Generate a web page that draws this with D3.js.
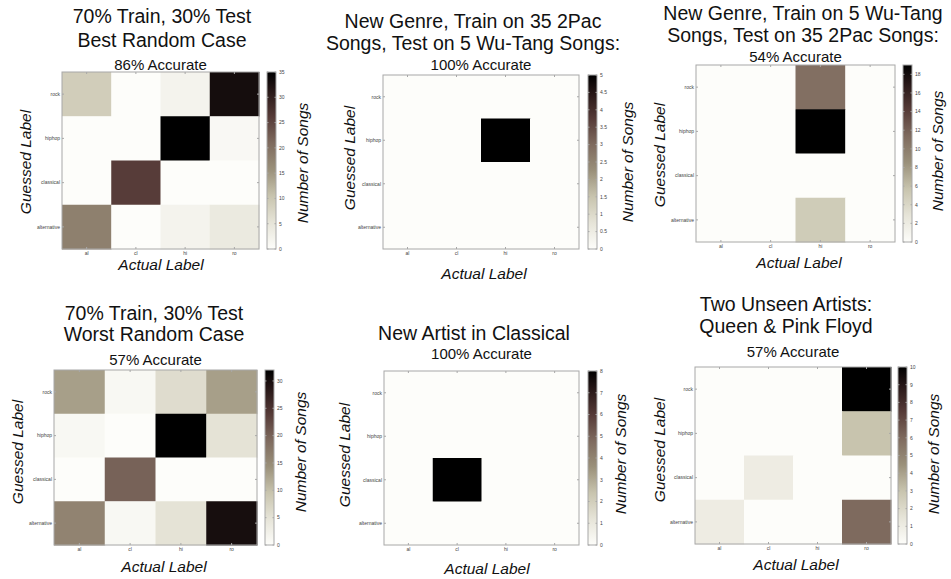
<!DOCTYPE html>
<html>
<head>
<meta charset="utf-8">
<script src="https://cdnjs.cloudflare.com/ajax/libs/d3/7.8.5/d3.min.js"></script>
<style>
body{margin:0;background:#fff}
svg{display:block}
text{font-family:"Liberation Sans",Arial,sans-serif}
</style>
</head>
<body>
<svg id="chart" width="951" height="579"></svg>
<script>
// categories
var guessed = ["rock","hiphop","classical","alternative"];
var actual = ["al","cl","hi","ro"];

// confusion matrices, rows = guessed label, columns = actual label
var bestCase   = [[9,0,2,33],[0,0,35,1],[0,26,0,0],[18,0,2,4]];
var train2Pac  = [[0,0,0,0],[0,0,5,0],[0,0,0,0],[0,0,0,0]];
var trainWu    = [[0,0,11,0],[0,0,19,0],[0,0,0,0],[0,0,5,0]];
var worstCase  = [[13,1,6,13],[1,0,32,5],[0,20,0,0],[16,1,5,30]];
var newArtist  = [[0,0,0,0],[0,0,0,0],[0,8,0,0],[0,0,0,0]];
var unseen     = [[0,0,0,10],[0,0,0,3],[0,1,0,0],[1,0,0,6]];
var matrices = [bestCase, train2Pac, trainWu, worstCase, newArtist, unseen];

var titles = [
  ["70% Train, 30% Test","Best Random Case"],
  ["New Genre, Train on 35 2Pac","Songs, Test on 5 Wu-Tang Songs:"],
  ["New Genre, Train on 5 Wu-Tang","Songs, Test on 35 2Pac Songs:"],
  ["70% Train, 30% Test","Worst Random Case"],
  ["New Artist in Classical"],
  ["Two Unseen Artists:","Queen & Pink Floyd"]
];
var accuracy = ["86% Accurate","100% Accurate","54% Accurate","57% Accurate","100% Accurate","57% Accurate"];

// reversed "pink"-like colormap
var cmapStops = [0,0.15,0.3,0.45,0.6,0.75,0.9,1];
var cmapColors = ["#fdfdfa","#e6e4d8","#c8c4ae","#9a907a","#7e6a5e","#553a37","#251616","#000000"];

// panel placement
var layout = [
  {bx:0,  by:0,  x0:62, x1:259,y0:72, y1:249,cb:267,tx:162,t1:23, t2:47, sub:70, ax:161,ay:270,gx:31, gy:162,nx:308,ny:163},
  {bx:318,by:0,  x0:383,x1:579,y0:75, y1:249,cb:588,tx:473,t1:28, t2:50, sub:70, ax:484,ay:279,gx:355,gy:158,nx:633,ny:162},
  {bx:637,by:0,  x0:696,x1:895,y0:65, y1:242,cb:903,tx:803,t1:20, t2:42, sub:62, ax:799,ay:268,gx:665,gy:155,nx:943,ny:151},
  {bx:0,  by:290,x0:54, x1:257,y0:370,y1:545,cb:265,tx:154,t1:320,t2:341,sub:365,ax:164,ay:572,gx:23, gy:452,nx:306,ny:452},
  {bx:318,by:290,x0:384,x1:579,y0:371,y1:545,cb:588,tx:474,t1:340,t2:0,  sub:359,ax:487,ay:574,gx:350,gy:455,nx:626,ny:454},
  {bx:637,by:290,x0:695,x1:891,y0:367,y1:544,cb:898,tx:786,t1:311,t2:333,sub:357,ax:796,ay:570,gx:665,gy:450,nx:939,ny:454}
];

var svg = d3.select("#chart");
var defs = svg.append("defs");
var edge = "#a8a8a8";

layout.forEach(function(p, i) {
  var m = matrices[i];
  var vmax = d3.max(m, function(r) { return d3.max(r); });
  var g = svg.append("g");

  g.append("rect").attr("x", p.bx).attr("y", p.by)
    .attr("width", 951 - p.bx).attr("height", 290).attr("fill", "#fff");

  var x = d3.scaleBand().domain(actual).range([p.x0, p.x1]);
  var y = d3.scaleBand().domain(guessed).range([p.y0, p.y1]);
  var color = d3.scaleLinear()
    .domain(cmapStops.map(function(s) { return s * vmax; }))
    .range(cmapColors)
    .interpolate(d3.interpolateRgb);

  var cells = [];
  m.forEach(function(row, r) {
    row.forEach(function(v, c) { cells.push({g: guessed[r], a: actual[c], v: v}); });
  });

  g.selectAll(".cell").data(cells).enter().append("rect")
    .attr("class", "cell")
    .attr("x", function(d) { return x(d.a); })
    .attr("y", function(d) { return y(d.g); })
    .attr("width", x.bandwidth() + 0.5)
    .attr("height", y.bandwidth() + 0.5)
    .attr("fill", function(d) { return color(d.v); });

  g.append("rect").attr("x", p.x0).attr("y", p.y0)
    .attr("width", p.x1 - p.x0).attr("height", p.y1 - p.y0)
    .attr("fill", "none").attr("stroke", edge).attr("stroke-width", 1);

  // small inside ticks, matlab style
  actual.forEach(function(a) {
    var cx = x(a) + x.bandwidth() / 2;
    g.append("line").attr("x1", cx).attr("x2", cx).attr("y1", p.y1).attr("y2", p.y1 - 2).attr("stroke", edge);
    g.append("line").attr("x1", cx).attr("x2", cx).attr("y1", p.y0).attr("y2", p.y0 + 2).attr("stroke", edge);
    g.append("text").attr("x", cx).attr("y", p.y1 + 6)
      .attr("text-anchor", "middle").attr("font-size", 5).attr("fill", "#444").text(a);
  });
  guessed.forEach(function(k) {
    var cy = y(k) + y.bandwidth() / 2;
    g.append("line").attr("x1", p.x0).attr("x2", p.x0 + 2).attr("y1", cy).attr("y2", cy).attr("stroke", edge);
    g.append("line").attr("x1", p.x1).attr("x2", p.x1 - 2).attr("y1", cy).attr("y2", cy).attr("stroke", edge);
    g.append("text").attr("x", p.x0 - 2).attr("y", cy + 1.8)
      .attr("text-anchor", "end").attr("font-size", 5).attr("fill", "#444").text(k);
  });

  // colorbar
  var cbw = 9;
  var grad = defs.append("linearGradient").attr("id", "cb" + i)
    .attr("x1", 0).attr("y1", 1).attr("x2", 0).attr("y2", 0);
  cmapStops.forEach(function(s, j) {
    grad.append("stop").attr("offset", s).attr("stop-color", cmapColors[j]);
  });
  g.append("rect").attr("x", p.cb).attr("y", p.y0)
    .attr("width", cbw).attr("height", p.y1 - p.y0)
    .attr("fill", "url(#cb" + i + ")").attr("stroke", edge);
  var cs = d3.scaleLinear().domain([0, vmax]).range([p.y1, p.y0]);
  cs.ticks(10).forEach(function(t) {
    var ty = cs(t);
    g.append("line").attr("x1", p.cb).attr("x2", p.cb + 1.5).attr("y1", ty).attr("y2", ty).attr("stroke", edge);
    g.append("line").attr("x1", p.cb + cbw).attr("x2", p.cb + cbw - 1.5).attr("y1", ty).attr("y2", ty).attr("stroke", edge);
    g.append("text").attr("x", p.cb + cbw + 3).attr("y", ty + 1.8)
      .attr("font-size", 5).attr("fill", "#444").text(d3.format("~g")(t));
  });

  // titles and labels
  g.append("text").attr("x", p.tx).attr("y", p.t1).attr("text-anchor", "middle")
    .attr("font-size", 19.5).attr("fill", "#111").text(titles[i][0]);
  if (titles[i][1]) {
    g.append("text").attr("x", p.tx).attr("y", p.t2).attr("text-anchor", "middle")
      .attr("font-size", 19.5).attr("fill", "#111").text(titles[i][1]);
  }
  g.append("text").attr("x", (p.x0 + p.x1) / 2).attr("y", p.sub).attr("text-anchor", "middle")
    .attr("font-size", 15).attr("fill", "#111").text(accuracy[i]);

  g.append("text").attr("x", p.ax).attr("y", p.ay).attr("text-anchor", "middle")
    .attr("font-size", 15.5).attr("font-style", "italic").attr("fill", "#111").text("Actual Label");
  g.append("text").attr("transform", "translate(" + p.gx + "," + p.gy + ") rotate(-90)")
    .attr("text-anchor", "middle").attr("font-size", 15.5).attr("font-style", "italic")
    .attr("fill", "#111").text("Guessed Label");
  g.append("text").attr("transform", "translate(" + p.nx + "," + p.ny + ") rotate(-90)")
    .attr("text-anchor", "middle").attr("font-size", 15.5).attr("font-style", "italic")
    .attr("fill", "#111").text("Number of Songs");
});
</script>
</body>
</html>
